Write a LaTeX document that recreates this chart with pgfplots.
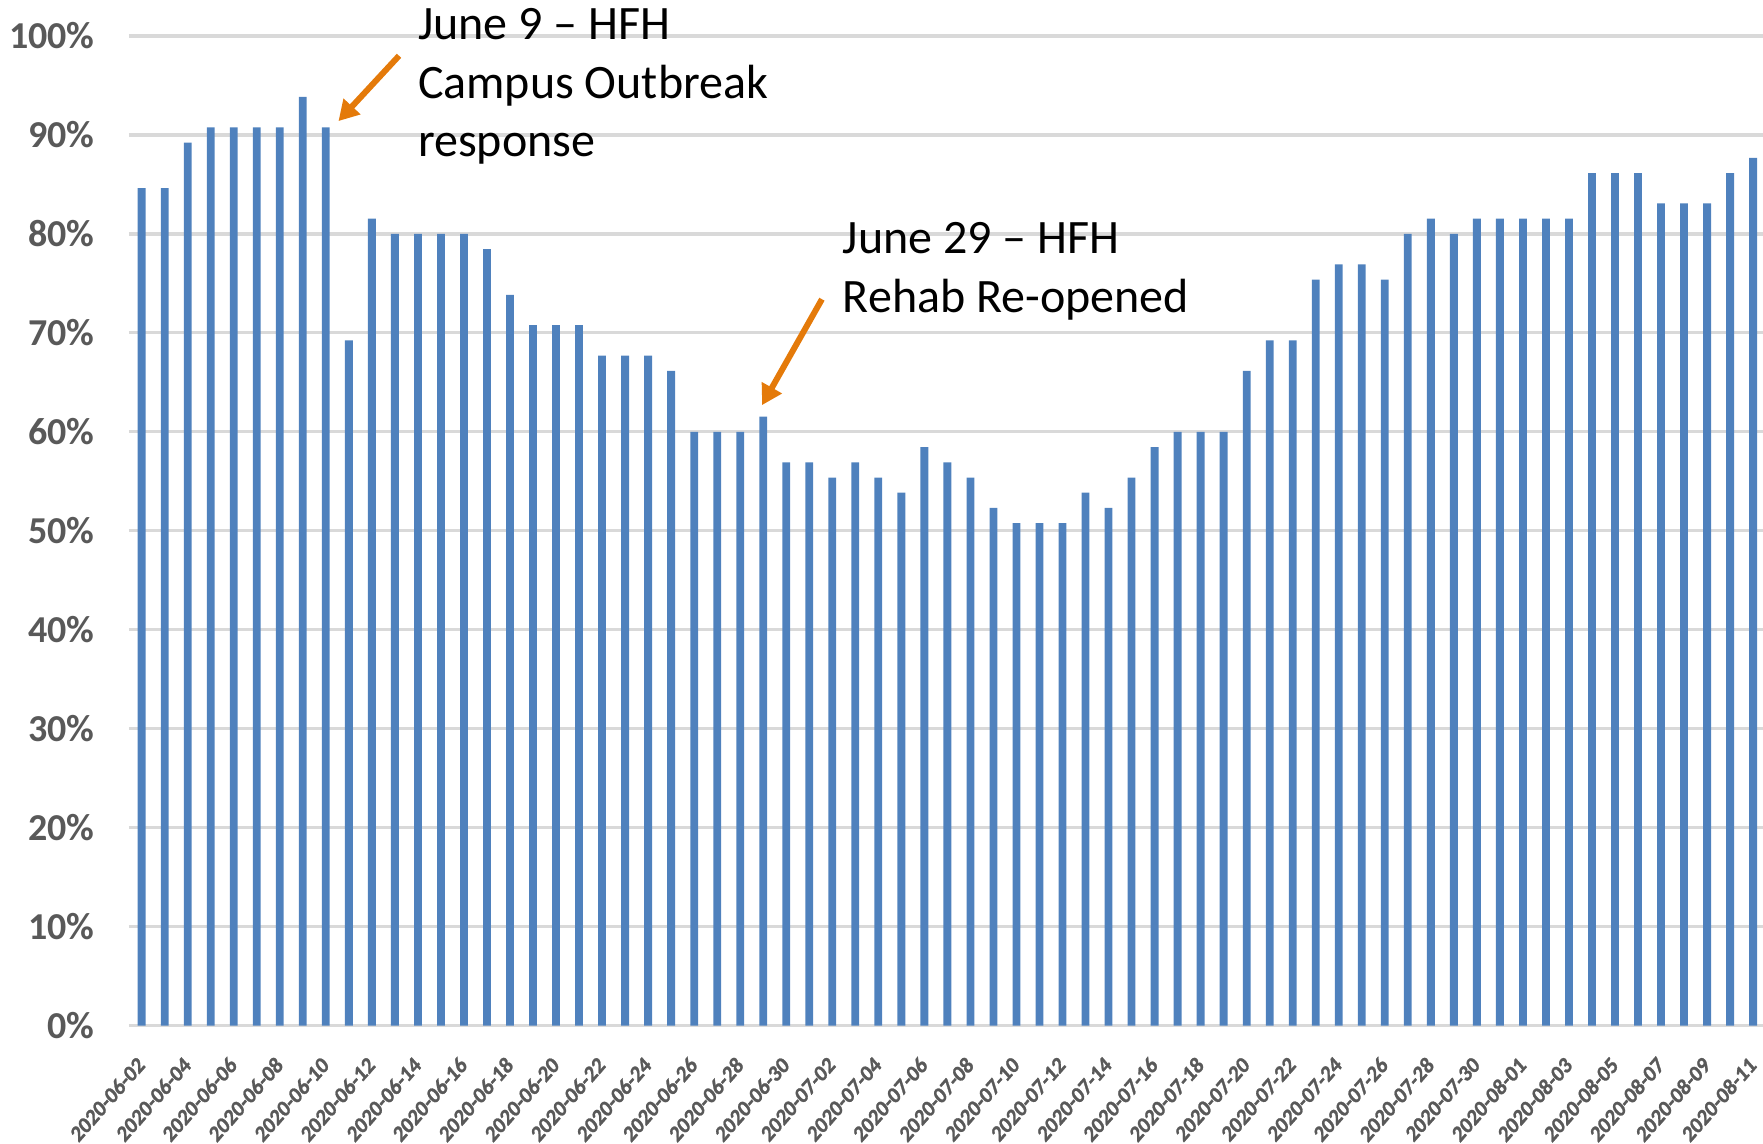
\documentclass[border=0pt]{standalone}
\usepackage{fontspec}
\setmainfont{Carlito}
\usepackage{pgfplots}
\pgfplotsset{compat=1.18}
\usetikzlibrary{arrows.meta}

\font\xtickfont="Carlito/B:embolden=1.2" at 5.8pt

\definecolor{barblue}{HTML}{4F81BD}
\definecolor{tickgray}{HTML}{595959}
\definecolor{gridgray}{HTML}{D9D9D9}
\definecolor{arrorange}{RGB}{228,122,10}

\begin{document}
\begin{tikzpicture}
\begin{axis}[
    at={(0,0)}, anchor=south west,
    scale only axis,
    width=408.5pt, height=247.4pt,
    ybar, bar width=0.34,
    xmin=0.45, xmax=71.43,
    ymin=0, ymax=100,
    axis line style={draw=none},
    major tick length=0pt,
    ymajorgrids,
    major grid style={gridgray, line width=0.8pt},
    ytick={0,10,...,100},
    yticklabels={0\%,10\%,20\%,30\%,40\%,50\%,60\%,70\%,80\%,90\%,100\%},
    yticklabel style={font=\fontsize{9.5}{11}\selectfont\bfseries, text=tickgray,
        anchor=east, inner sep=0pt, xshift=-8.4pt},
    xtick={1,3,...,71},
    xticklabels={2020-06-02,2020-06-04,2020-06-06,2020-06-08,2020-06-10,2020-06-12,
        2020-06-14,2020-06-16,2020-06-18,2020-06-20,2020-06-22,2020-06-24,2020-06-26,
        2020-06-28,2020-06-30,2020-07-02,2020-07-04,2020-07-06,2020-07-08,2020-07-10,
        2020-07-12,2020-07-14,2020-07-16,2020-07-18,2020-07-20,2020-07-22,2020-07-24,
        2020-07-26,2020-07-28,2020-07-30,2020-08-01,2020-08-03,2020-08-05,2020-08-07,
        2020-08-09,2020-08-11},
    xticklabel style={font=\xtickfont, text=tickgray,
        inner sep=0pt, yshift=-8.7pt, xshift=0pt, xscale=0.88, rotate=45, anchor=east},
    clip=false,
]
\addplot[fill=barblue, draw=none] coordinates {
(1,84.62) (2,84.62) (3,89.23) (4,90.77) (5,90.77) (6,90.77) (7,90.77) (8,93.85)
(9,90.77) (10,69.23) (11,81.54) (12,80.00) (13,80.00) (14,80.00) (15,80.00) (16,78.46)
(17,73.85) (18,70.77) (19,70.77) (20,70.77) (21,67.69) (22,67.69) (23,67.69) (24,66.15)
(25,60.00) (26,60.00) (27,60.00) (28,61.54) (29,56.92) (30,56.92) (31,55.38) (32,56.92)
(33,55.38) (34,53.85) (35,58.46) (36,56.92) (37,55.38) (38,52.31) (39,50.77) (40,50.77)
(41,50.77) (42,53.85) (43,52.31) (44,55.38) (45,58.46) (46,60.00) (47,60.00) (48,60.00)
(49,66.15) (50,69.23) (51,69.23) (52,75.38) (53,76.92) (54,76.92) (55,75.38) (56,80.00)
(57,81.54) (58,80.00) (59,81.54) (60,81.54) (61,81.54) (62,81.54) (63,81.54) (64,86.15)
(65,86.15) (66,86.15) (67,83.08) (68,83.08) (69,83.08) (70,86.15) (71,87.69)
};

% annotations
\draw[arrorange, line width=1.5pt, -{Triangle[length=5pt,width=5.5pt]}]
    (axis cs:12.18,98.0) -- (axis cs:9.55,91.4);
\draw[arrorange, line width=1.5pt, -{Triangle[length=5pt,width=5.5pt]}]
    (axis cs:30.55,73.4) -- (axis cs:27.95,62.7);
\begin{scope}[every node/.style={font=\fontsize{12}{14.6}\selectfont, anchor=base west, inner sep=0pt}]
\node at (axis cs:12.97,99.6) {June 9 – HFH};
\node at (axis cs:12.97,93.7) {Campus Outbreak};
\node at (axis cs:12.97,87.8) {response};
\node at (axis cs:31.43,78.0) {June 29 – HFH};
\node at (axis cs:31.43,72.1) {Rehab Re-opened};
\end{scope}
\end{axis}
\pgfresetboundingbox
\useasboundingbox (-32.25pt,-29.4pt) rectangle (408.5pt,256.4pt);
\end{tikzpicture}
\end{document}
